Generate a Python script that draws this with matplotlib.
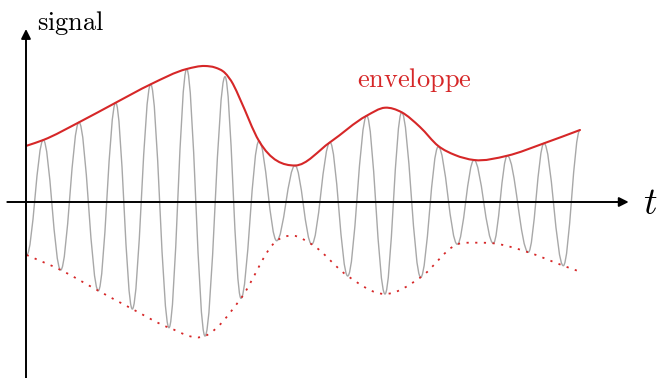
import numpy as np
import matplotlib.pyplot as plt
from matplotlib.path import Path
from matplotlib.patches import PathPatch

plt.rcParams['mathtext.fontset'] = 'cm'

# upper envelope (time, amplitude)
env_up_t = [0.7, 17.3, 53, 89.7, 124.7, 160.7, 179, 189, 199, 207, 214, 233, 269,
            304, 340.7, 359, 375.7, 394, 412.3, 429, 448, 481.3, 518, 554]
env_up_s = [56.3, 62, 79.7, 99.3, 117.7, 133, 136, 134.5, 129, 118, 103, 61, 36.5,
            59.7, 86.3, 94.3, 89.7, 75, 56, 47, 42, 46.3, 58.7, 72]

# lower envelope (dotted)
env_lo_t = [0.7, 34.7, 72.3, 106.3, 143, 179, 215, 250.7, 267.3, 285.7, 321.7,
            359, 394.7, 431.3, 450.7, 467.3, 502.3, 537.3, 554]
env_lo_s = [-53, -68, -88.7, -107, -125.7, -134, -96.3, -38.7, -33.7, -42.3, -74,
            -92, -75.3, -42.3, -40.7, -41.3, -50.3, -63.7, -69.7]

# extrema of the modulated signal, alternating trough / peak
sig_t = [0.7, 17.3, 34.7, 53, 72.3, 89.7, 106.3, 124.7, 143, 160.7, 179, 199,
         215, 233, 250.7, 269, 285.7, 304, 321.7, 340.7, 359, 375.7, 394.7, 412.3,
         431.3, 448, 467.3, 481.3, 502.3, 518, 537.3, 554]
sig_s = [-53, 62, -68, 79.7, -88.7, 99.3, -107, 117.7, -125.7, 133, -134, 125.3,
         -96.3, 61, -38.7, 36.5, -42.3, 59.7, -74, 86.3, -92, 89.7, -75.3, 55.3,
         -42.3, 42, -41.3, 46.3, -50.3, 58.7, -63.7, 72]

red = '#d62728'


def smooth_path(xs, ys):
    # cubic Hermite through the points (slopes from neighbours), as Bezier segments
    x = np.asarray(xs, float)
    y = np.asarray(ys, float)
    h = np.diff(x)
    d = np.diff(y) / h
    m = np.empty_like(x)
    m[0], m[-1] = d[0], d[-1]
    m[1:-1] = (d[1:] * h[:-1] + d[:-1] * h[1:]) / (h[:-1] + h[1:])
    verts = [(x[0], y[0])]
    codes = [Path.MOVETO]
    for i in range(len(x) - 1):
        s = h[i] / 3
        verts += [(x[i] + s, y[i] + m[i] * s), (x[i + 1] - s, y[i + 1] - m[i + 1] * s),
                  (x[i + 1], y[i + 1])]
        codes += [Path.CURVE4] * 3
    return Path(verts, codes)


def wave_path(xs, ys):
    # half-cosine arcs between consecutive extrema (flat tangents at each one)
    k = (np.pi - 2) / np.pi
    verts = [(xs[0], ys[0])]
    codes = [Path.MOVETO]
    for i in range(len(xs) - 1):
        dx = xs[i + 1] - xs[i]
        verts += [(xs[i] + k * dx, ys[i]), (xs[i + 1] - k * dx, ys[i + 1]),
                  (xs[i + 1], ys[i + 1])]
        codes += [Path.CURVE4] * 3
    return Path(verts, codes)


fig = plt.figure(figsize=(6.57, 3.78), dpi=100)
ax = fig.add_axes([0, 0, 1, 1])
ax.set_xlim(-26, 631)
ax.set_ylim(-176, 202)
ax.axis('off')

ax.add_patch(PathPatch(wave_path(sig_t, sig_s), fc='none', ec='#a8a8a8', lw=1.0))
ax.add_patch(PathPatch(smooth_path(env_up_t, env_up_s), fc='none', ec=red, lw=1.5,
                       capstyle='round'))
ax.add_patch(PathPatch(smooth_path(env_lo_t, env_lo_s), fc='none', ec=red, lw=1.3,
                       linestyle=(0, (1.2, 3.6))))

# axes with arrows
arrow = dict(arrowstyle='-|>', lw=1.4, color='black', mutation_scale=14,
             shrinkA=0, shrinkB=0)
ax.annotate('', xy=(602.7, 0), xytext=(-18.7, 0), arrowprops=arrow)
ax.annotate('', xy=(0, 173), xytext=(0, -180), arrowprops=arrow)

ax.text(10.7, 172, r'$\mathrm{signal}$', fontsize=19, ha='left', va='baseline')
ax.text(331.3, 114.7, r'$\mathrm{enveloppe}$', fontsize=19, color=red,
        ha='left', va='baseline')
ax.text(617, -12, r'$t$', fontsize=27, ha='left', va='baseline')

fig.savefig('out.png', dpi=100)
